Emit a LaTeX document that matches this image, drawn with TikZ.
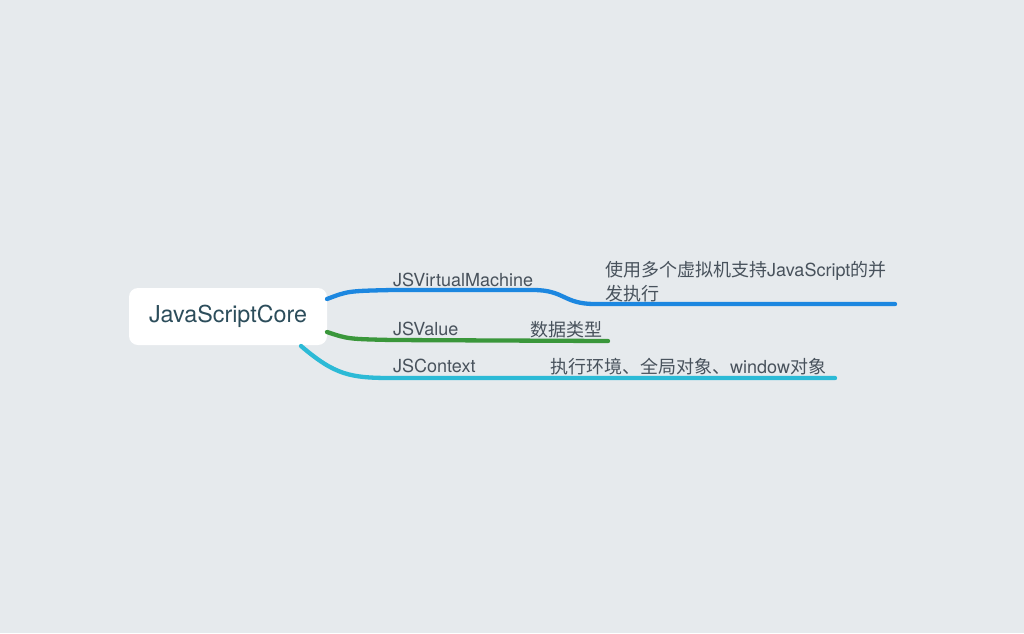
\documentclass[tikz,border=0pt]{standalone}
\usepackage{fontspec}
\setmainfont{TeX Gyre Heros}
\newfontfamily\cjk{Noto Sans CJK SC}
\definecolor{paper}{HTML}{E6EAED}
\definecolor{vmblue}{HTML}{1C87E0}
\definecolor{valgreen}{HTML}{3A973B}
\definecolor{ctxcyan}{HTML}{2CBAD6}
\definecolor{labelgray}{HTML}{48525C}
\definecolor{coreteal}{HTML}{2C4D5B}
\tikzset{
    mapbranch/.style={line width=4.3pt, line cap=round},
    rootnode/.style={
        fill=white, rounded corners=9pt,
        minimum width=198pt, minimum height=57pt,
        inner sep=0pt, text=coreteal,
        font=\fontsize{23.3}{23.3}\selectfont,
    },
    keyword/.style={anchor=base west, inner sep=0pt, text=labelgray,
        font=\fontsize{18}{18}\selectfont},
    note/.style={anchor=base west, inner sep=0pt, text=labelgray,
        font=\fontsize{18}{24}\selectfont},
}

\begin{document}
\begin{tikzpicture}[x=1pt,y=-1pt]
        \fill[paper] (0,0) rectangle (1024,633);
        \node[rootnode] (core) at (228,316.5) {JavaScriptCore};
        % branch ends
        \coordinate (vmA) at (327,299);
        \coordinate (vmB) at (533,290);
        \coordinate (vmC) at (895,304);
        \coordinate (valA) at (327,332);
        \coordinate (valB) at (608,341);
        \coordinate (ctxA) at (301,346);
        \coordinate (ctxB) at (835,378);
        \draw[mapbranch, vmblue] (vmA) .. controls (348,291) .. (392,290)
            -- (vmB) .. controls (565,290) and (563,304) .. (595,304) -- (vmC);
        \draw[mapbranch, valgreen] (valA) .. controls (348,339) .. (392,340)
            -- (valB);
        \draw[mapbranch, ctxcyan] (ctxA) .. controls (335,375) and (350,378) .. (392,378)
            -- (ctxB);
        \node[keyword] (vmname) at (393,286) {JSVirtualMachine};
        \node[keyword] (valname) at (393,335) {JSValue};
        \node[keyword] (ctxname) at (393,372) {JSContext};
        \node[note, align=left] (vmnote) at (605,300)
            {{\cjk 使用多个虚拟机支持}JavaScript{\cjk 的并}\\{\cjk 发执行}};
        \node[note] (valnote) at (530,336) {\cjk 数据类型};
        \node[note] (ctxnote) at (550,373) {{\cjk 执行环境、全局对象、}window{\cjk 对象}};
\end{tikzpicture}
\end{document}
